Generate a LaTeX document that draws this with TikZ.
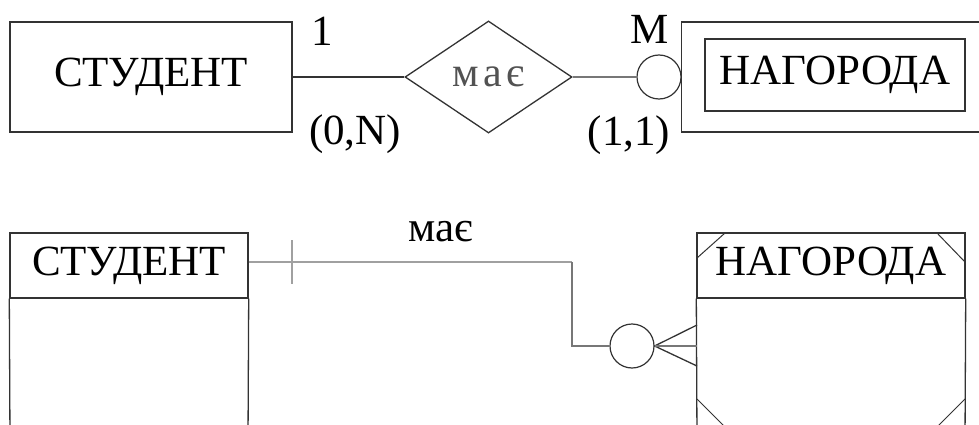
\documentclass[tikz,border=0pt]{standalone}
\usepackage{fontspec}
\setmainfont{Liberation Serif}
\newfontfamily\monof[LetterSpace=10]{Liberation Serif}
\usetikzlibrary{shapes.geometric}
\definecolor{ln}{HTML}{333333}
\definecolor{lgray}{HTML}{777777}
\definecolor{lgray2}{HTML}{A0A0A0}
\tikzset{
  ent/.style={draw=ln, line width=1.4pt, rectangle, inner sep=0pt, font=\fontsize{43}{45}\selectfont},
  lbl/.style={inner sep=0pt, font=\fontsize{43}{45}\selectfont},
  rel/.style={draw=ln, line width=1.3pt, diamond, inner sep=0pt, minimum width=167pt, minimum height=112pt, font=\monof\fontsize{42}{44}\selectfont, text=ln!85!white},
  opt/.style={draw=ln, line width=1.2pt, circle, inner sep=0pt, minimum size=44pt},
  conn/.style={draw=ln, line width=1.3pt},
}
\begin{document}
\begin{tikzpicture}[x=1pt,y=-1pt]
\clip (0,0) rectangle (979,425);
\fill[white] (0,0) rectangle (979,425);
% ---------- top diagram ----------
\node[ent, minimum width=282pt, minimum height=110pt] (s1) at (151,77) {СТУДЕНТ};
\node[rel] (r1) at (488.5,77) {\raisebox{-3pt}{має}};
\node[opt] (c1) at (659,77) {};
\node[draw=ln, line width=1.4pt, rectangle, inner sep=0pt, minimum width=330pt, minimum height=110pt, anchor=west] (n1) at (681,77) {};
\node[ent, minimum width=260pt, minimum height=72pt] (n1i) at (835,75) {НАГОРОДА};
\draw[conn] (s1.east) -- (r1.west);
\draw[conn, draw=lgray] (r1.east) -- (c1.west);
\node[lbl] (one) at (322,31) {1};
\node[lbl] (m) at (650,29) {M};
\node[lbl] (zn) at (355,134) {(0,N)};
\node[lbl] (oo) at (629,135) {(1,1)};
% ---------- bottom diagram ----------
\node[ent, minimum width=238pt, minimum height=65pt] (s2h) at (129,265.5) {СТУДЕНТ};
\node[ent, minimum width=268pt, minimum height=65pt] (n2h) at (831,265.5) {НАГОРОДА};
\coordinate (s2b) at (248,440);
\coordinate (n2b) at (965,440);
\draw[conn] (s2h.south west) -- (10,440) (s2h.south east) -- (s2b);
\draw[conn] (n2h.south west) -- (697,440) (n2h.south east) -- (n2b);
% corner marks of the weak entity
\draw[conn, line width=1pt] (697,258) -- (725,233);
\draw[conn, line width=1pt] (937,233) -- (965,262);
\draw[conn, line width=1pt] (697,399) -- (729,431);
\draw[conn, line width=1pt] (965,399) -- (933,431);
% connector
\node[opt] (c2) at (632,346) {};
\coordinate (bend1) at (572,262);
\coordinate (bend2) at (572,346);
\draw[conn, draw=lgray2, line width=1.8pt] (s2h.east |- bend1) -- (bend1);
\draw[conn, draw=lgray] (bend1) -- (bend2) -- (c2.west);
\coordinate (tickT) at (292,240);
\coordinate (tickB) at (292,284);
\draw[conn, draw=lgray2, line width=1.8pt] (tickT) -- (tickB);
\coordinate (f1) at (697,325);
\coordinate (f2) at (697,346);
\coordinate (f3) at (697,366);
\draw[conn] (f1) -- (c2.east) -- (f3);
\draw[conn, draw=lgray] (c2.east) -- (f2);
\node[lbl] (mae) at (441,232) {має};
\end{tikzpicture}
\end{document}
